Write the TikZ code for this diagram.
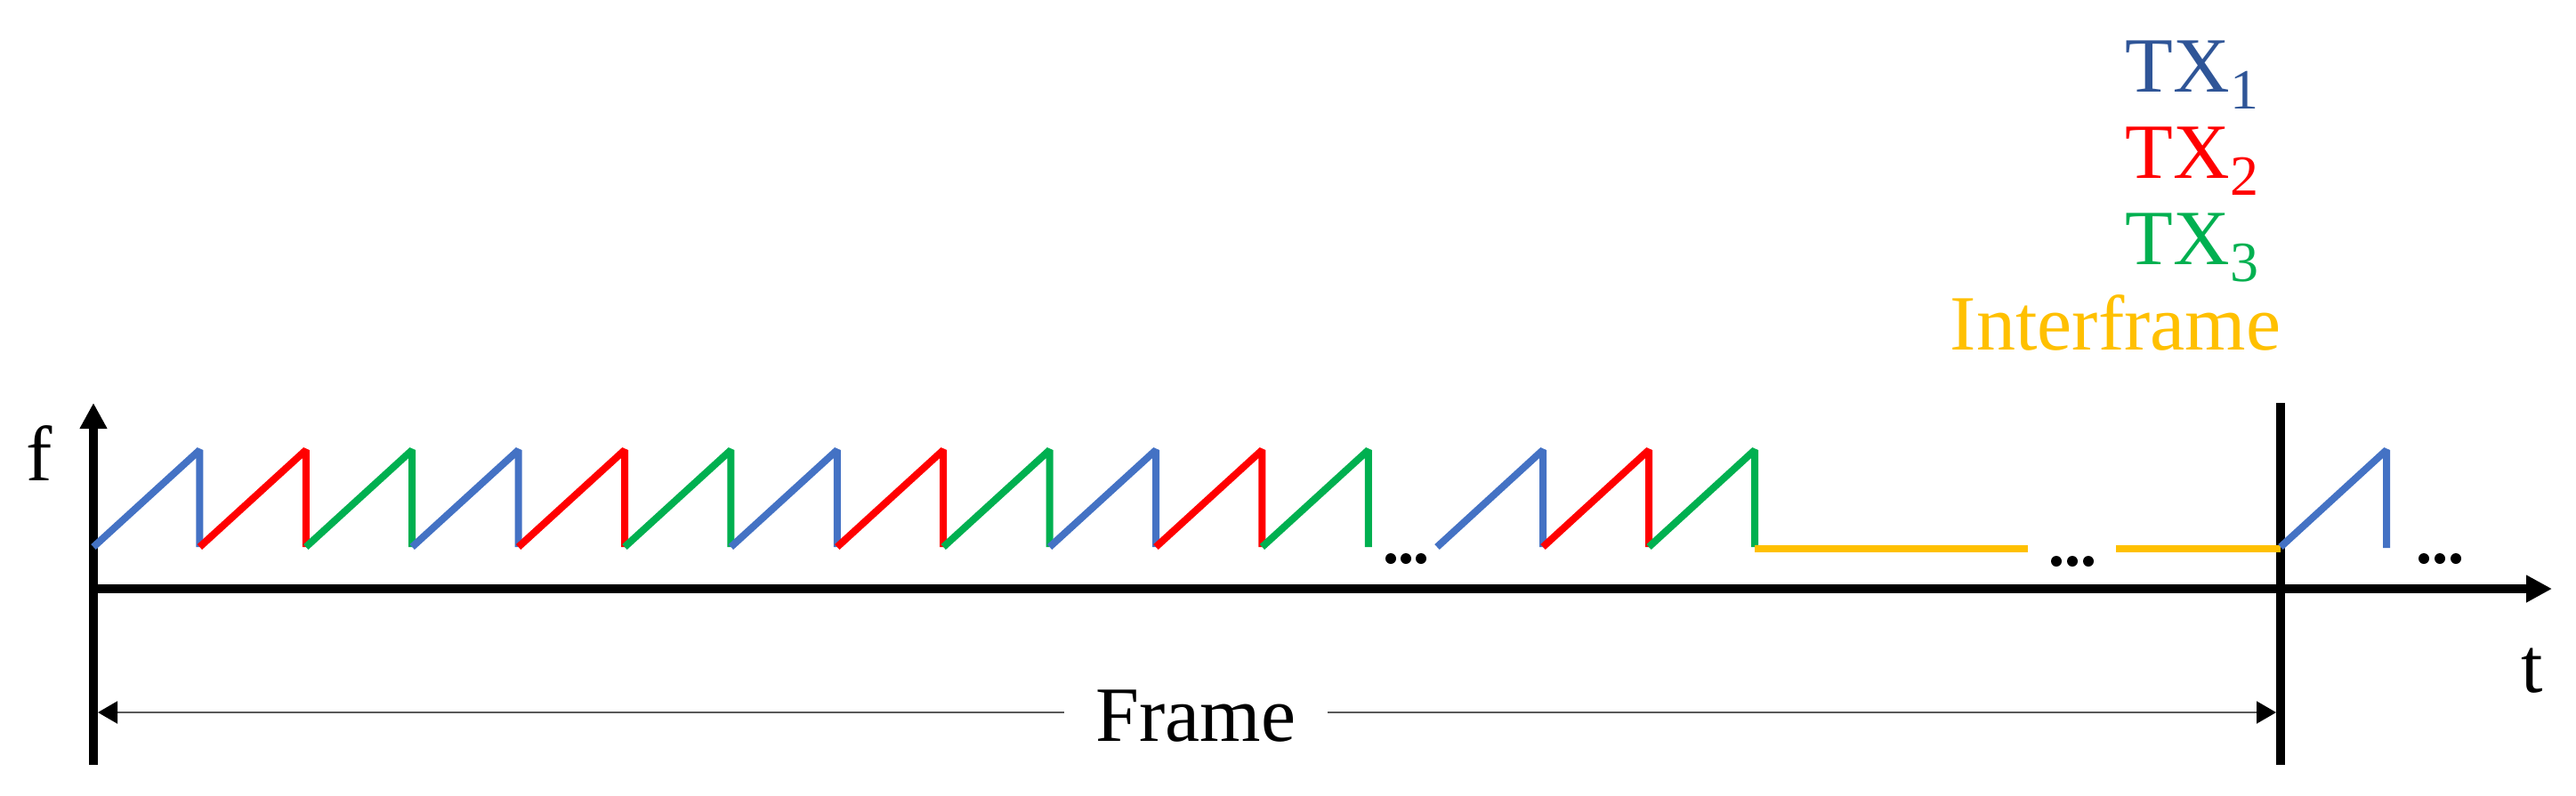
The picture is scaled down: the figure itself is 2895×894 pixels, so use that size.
\documentclass[tikz,border=0pt]{standalone}
\usepackage{fontspec}
\setmainfont{Liberation Serif}
\usetikzlibrary{arrows.meta}
\definecolor{txblue}{HTML}{4472C4}
\definecolor{txred}{HTML}{FF0000}
\definecolor{txgreen}{HTML}{00B050}
\definecolor{txyellow}{HTML}{FFC000}
\definecolor{labblue}{HTML}{2F5597}
\newcommand{\subdig}[1]{\raisebox{-4.75pt}{\fontsize{16}{18}\selectfont #1}}
\begin{document}
\begin{tikzpicture}[x=0.25pt,y=-0.25pt,
  axis/.style={line width=2.5pt, black},
  sig/.style={line width=2pt, line join=bevel},
  dotmark/.style={circle, fill=black, inner sep=0pt, minimum size=3pt},
  lab/.style={font=\fontsize{22}{26}\selectfont, inner sep=0pt},
  bigtip/.style={-{Triangle[length=7.25pt,width=7.25pt]}},
  framearrow/.style={{Triangle[length=5.5pt,width=6.25pt,color=black]}-{Triangle[length=5.5pt,width=6.25pt,color=black]}, line width=0.5pt, draw=black!65}]
\useasboundingbox (0,0) rectangle (2895,894);
% axes
\coordinate (ybot) at (105,860);
\coordinate (ytop) at (105,453);
\coordinate (xleft) at (100,662);
\coordinate (xright) at (2868,662);
\coordinate (fbot) at (2563,860);
\coordinate (ftop) at (2563,453);
\draw[axis,bigtip] (ybot) -- (ytop);
\draw[axis,bigtip] (xleft) -- (xright);
\draw[axis] (fbot) -- (ftop);
% sawtooth first group
\foreach \k/\c in {0/txblue,1/txred,2/txgreen,3/txblue,4/txred,5/txgreen,6/txblue,7/txred,8/txgreen,9/txblue,10/txred,11/txgreen}{
  \pgfmathsetmacro\xa{105+\k*119.4}
  \pgfmathsetmacro\xb{105+(\k+1)*119.4}
  \draw[sig,\c] (\xa,615) -- (\xb,506) -- (\xb,615);
}
% second group
\foreach \k/\c in {0/txblue,1/txred,2/txgreen}{
  \pgfmathsetmacro\xa{1615+\k*119}
  \pgfmathsetmacro\xb{1615+(\k+1)*119}
  \draw[sig,\c] (\xa,615) -- (\xb,506) -- (\xb,615);
}
% interframe
\draw[sig,txyellow] (1972,617) -- (2279,617);
\draw[sig,txyellow] (2378,617) -- (2563,617);
% next frame
\draw[sig,txblue] (2563,615) -- (2682,506) -- (2682,616);
% dots
\foreach \x in {1563,1580,1597}{\node[dotmark] (d1\x) at (\x,628) {};}
\foreach \x in {2311,2329,2347}{\node[dotmark] (d2\x) at (\x,631) {};}
\foreach \x in {2724,2742,2760}{\node[dotmark] (d3\x) at (\x,628) {};}
% frame arrow
\coordinate (fl) at (110,801);
\coordinate (fr) at (2558,801);
\draw[framearrow] (fl) -- (fr);
\node[lab, fill=white, inner xsep=9pt, anchor=base] (frame) at (1344,833) {Frame};
% axis labels
\node[lab, anchor=base] (flab) at (44,540) {f};
\node[lab, anchor=base] (tlab) at (2846,778) {t};
% legend
\node[lab, anchor=base west, text=labblue] (tx1) at (2388,103) {TX\subdig{1}};
\node[lab, anchor=base west, text=txred] (tx2) at (2388,200) {TX\subdig{2}};
\node[lab, anchor=base west, text=txgreen] (tx3) at (2388,297) {TX\subdig{3}};
\node[lab, anchor=base east, text=txyellow] (ifr) at (2564,393) {Interframe};
\end{tikzpicture}
\end{document}
